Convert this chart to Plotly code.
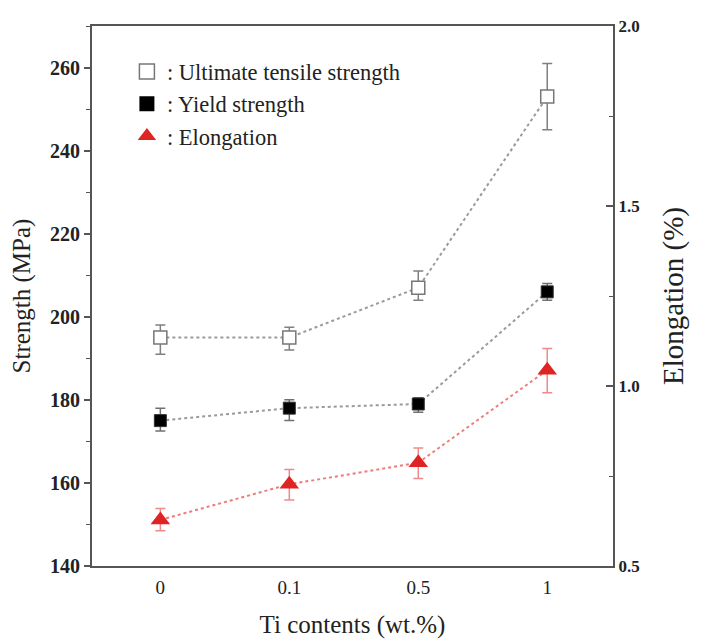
import plotly.graph_objects as go

categories = ["0", "0.1", "0.5", "1"]
uts = [195, 195, 207, 253]
uts_err_plus = [3, 2.5, 4, 8]
uts_err_minus = [4, 3, 3, 8]
ys = [175, 178, 179, 206]
ys_err_plus = [3, 2, 1.5, 2]
ys_err_minus = [2.5, 3, 2, 2]
elong = [0.628, 0.727, 0.787, 1.044]
el_err_plus = [0.032, 0.041, 0.041, 0.06]
el_err_minus = [0.03, 0.044, 0.044, 0.063]

serif = "Liberation Serif"
fig = go.Figure()

fig.add_trace(go.Scatter(
    x=categories, y=uts, mode="lines+markers", showlegend=False,
    line=dict(color="#9a9a9a", width=2, dash="dot"),
    marker=dict(symbol="square", size=13, color="white", line=dict(color="#777777", width=1.5)),
    error_y=dict(type="data", array=uts_err_plus, arrayminus=uts_err_minus,
                 color="#808080", thickness=1.5, width=5),
))
fig.add_trace(go.Scatter(
    x=categories, y=ys, mode="lines+markers", showlegend=False,
    line=dict(color="#9a9a9a", width=2, dash="dot"),
    marker=dict(symbol="square", size=12, color="black", line=dict(color="#333333", width=1)),
    error_y=dict(type="data", array=ys_err_plus, arrayminus=ys_err_minus,
                 color="#707070", thickness=1.5, width=5),
))
fig.add_trace(go.Scatter(
    x=categories, y=elong, mode="lines+markers", showlegend=False, yaxis="y2",
    line=dict(color="#f07a7a", width=2, dash="dot"),
    marker=dict(symbol="triangle-up", size=17, color="#e02424"),
    error_y=dict(type="data", array=el_err_plus, arrayminus=el_err_minus,
                 color="#f08a8a", thickness=1.5, width=5),
))

# legend entries
fig.add_trace(go.Scatter(x=[None], y=[None], mode="markers", name=": Ultimate tensile strength",
                         marker=dict(symbol="square", size=15, color="white", line=dict(color="#777777", width=1.5))))
fig.add_trace(go.Scatter(x=[None], y=[None], mode="markers", name=": Yield strength",
                         marker=dict(symbol="square", size=15, color="black")))
fig.add_trace(go.Scatter(x=[None], y=[None], mode="markers", name=": Elongation",
                         marker=dict(symbol="triangle-up", size=17, color="#e02424")))

fig.update_layout(
    width=703, height=641,
    margin=dict(l=84, r=98, t=9, b=83),
    plot_bgcolor="white", paper_bgcolor="white",
    font=dict(family=serif, color="#222222"),
    showlegend=True,
    legend=dict(x=0.067, y=0.955, xanchor="left", yanchor="top", bgcolor="rgba(0,0,0,0)",
                font=dict(family=serif, size=22.5, color="#222222"), tracegroupgap=0,
                itemwidth=30),
    xaxis=dict(type="category", range=[-0.53, 3.51], showline=True, linecolor="#555555", linewidth=2,
               mirror=True, ticks="", showgrid=False, zeroline=False, ticklabelstandoff=3,
               tickfont=dict(family=serif, size=19, color="#222222"),
               title=dict(text="Ti contents (wt.%)", font=dict(family=serif, size=25, color="#222222"), standoff=19)),
    yaxis=dict(range=[140, 270], tickvals=[140, 160, 180, 200, 220, 240, 260], showline=True,
               linecolor="#555555", linewidth=2, ticks="outside", ticklen=6, tickwidth=1.5, tickcolor="#555555",
               minor=dict(ticks="outside", ticklen=4, tickwidth=1.2, tickcolor="#555555", dtick=10, showgrid=False),
               showgrid=False, zeroline=False,
               tickfont=dict(family=serif, size=20, color="#222222", weight="bold"),
               title=dict(text="Strength (MPa)", font=dict(family=serif, size=25, color="#222222"), standoff=14)),
    yaxis2=dict(overlaying="y", side="right", range=[0.5, 2.0], tickvals=[0.5, 1.0, 1.5, 2.0],
                ticktext=["0.5", "1.0", "1.5", "2.0"], showline=True, linecolor="#555555", linewidth=2,
                ticks="inside", ticklen=7, tickwidth=1.5, tickcolor="#555555",
                minor=dict(ticks="inside", ticklen=4, tickwidth=1.2, tickcolor="#555555", dtick=0.25, showgrid=False),
                showgrid=False, zeroline=False,
                tickfont=dict(family=serif, size=17, color="#222222", weight="bold"),
                title=dict(text="Elongation (%)", font=dict(family=serif, size=29, color="#222222"), standoff=24)),
)

fig.write_html("out.html")
